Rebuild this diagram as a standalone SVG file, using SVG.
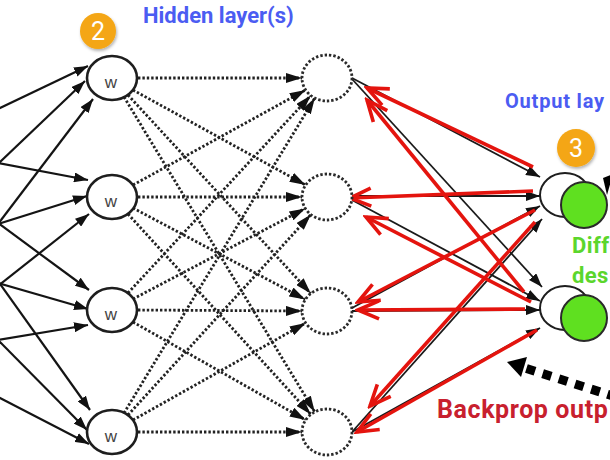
<svg xmlns="http://www.w3.org/2000/svg" width="610" height="460" viewBox="0 0 610 460">
<style>
.in{stroke:#141414;stroke-width:2.2;fill:none;marker-end:url(#ah)}
.dot{stroke:#222;stroke-width:2.8;stroke-dasharray:2.4 2;fill:none;marker-end:url(#ahd)}
.bl{stroke:#1a1a1a;stroke-width:1.8;fill:none;marker-end:url(#ah)}
.rd{stroke:#e4140e;stroke-width:3.6;fill:none;marker-end:url(#ahr)}
.n1{fill:#fff;stroke:#1e1e1e;stroke-width:2.6}
.n2{fill:#fff;stroke:#2a2a2a;stroke-width:2.8;stroke-dasharray:2.4 2}
.out{fill:#fff;stroke:#1e1e1e;stroke-width:2}
.grn{fill:#5fe020;stroke:#2a2a2a;stroke-width:2}
.w{font-family:"Liberation Sans",Arial,sans-serif;font-size:17px;fill:#444;text-anchor:middle}
.lbl{font-family:Roboto,"Liberation Sans",sans-serif;font-weight:bold}
.badge{fill:#f4a614}
.bt{font-family:Roboto,"Liberation Sans",sans-serif;font-size:25px;fill:#fff;text-anchor:middle}
</style>
<defs>
<marker id="ah" viewBox="0 0 14 10" refX="14" refY="5" markerWidth="14" markerHeight="10" markerUnits="userSpaceOnUse" orient="auto"><path d="M0,0 L14,5 L0,10 z" fill="#111"/></marker>
<marker id="ahd" viewBox="0 0 16 10" refX="16" refY="5" markerWidth="16" markerHeight="10" markerUnits="userSpaceOnUse" orient="auto"><path d="M0,0 L16,5 L0,10 z" fill="#111"/></marker>
<marker id="ahr" viewBox="0 0 26 22" refX="23" refY="11" markerWidth="26" markerHeight="22" markerUnits="userSpaceOnUse" orient="auto"><path d="M2,2 L23,11 L2,20" fill="none" stroke="#e4140e" stroke-width="3.6"/></marker>
<filter id="sh" x="-30%" y="-30%" width="160%" height="160%"><feDropShadow dx="1" dy="2" stdDeviation="1.5" flood-color="#000" flood-opacity="0.3"/></filter>
</defs>
<g id="connectors">
<g id="inputs">
<line class="in" x1="-2" y1="109" x2="88" y2="66"/>
<line class="in" x1="-2" y1="164" x2="85" y2="81"/>
<line class="in" x1="-2" y1="224" x2="93" y2="99"/>
<line class="in" x1="-2" y1="163" x2="88" y2="180"/>
<line class="in" x1="-2" y1="224" x2="87" y2="196"/>
<line class="in" x1="-2" y1="286" x2="89" y2="214"/>
<line class="in" x1="-2" y1="223" x2="89" y2="290"/>
<line class="in" x1="-2" y1="283" x2="88" y2="309"/>
<line class="in" x1="-2" y1="340" x2="88" y2="325"/>
<line class="in" x1="-2" y1="281" x2="90" y2="410"/>
<line class="in" x1="-2" y1="340" x2="87" y2="430"/>
<line class="in" x1="-2" y1="397" x2="89" y2="444"/>
</g>
<g id="hidden-links">
<line class="dot" x1="138" y1="78" x2="302" y2="78"/>
<line class="dot" x1="133" y1="90" x2="305.6" y2="185"/>
<line class="dot" x1="128" y1="95" x2="310.8" y2="293.5"/>
<line class="dot" x1="124" y1="97" x2="314.8" y2="412"/>
<line class="dot" x1="133" y1="185" x2="305.6" y2="90"/>
<line class="dot" x1="138" y1="197" x2="302" y2="197"/>
<line class="dot" x1="133" y1="208" x2="305.3" y2="299.5"/>
<line class="dot" x1="128" y1="214" x2="310.9" y2="414.4"/>
<line class="dot" x1="128" y1="293" x2="310.8" y2="95.5"/>
<line class="dot" x1="133" y1="299" x2="305.3" y2="208.4"/>
<line class="dot" x1="138" y1="310" x2="302" y2="311"/>
<line class="dot" x1="133" y1="322" x2="305.7" y2="420"/>
<line class="dot" x1="124" y1="413" x2="314.8" y2="98"/>
<line class="dot" x1="128" y1="415" x2="310.9" y2="214.6"/>
<line class="dot" x1="133" y1="420" x2="305.7" y2="323"/>
<line class="dot" x1="138" y1="432" x2="302" y2="432"/>
</g>
<g id="output-links">
<line class="bl" x1="352" y1="78" x2="540" y2="177"/>
<line class="bl" x1="352" y1="79" x2="542" y2="287"/>
<line class="bl" x1="352" y1="196" x2="540" y2="196"/>
<line class="bl" x1="352" y1="200" x2="540" y2="301"/>
<line class="bl" x1="352" y1="308" x2="540" y2="206"/>
<line class="bl" x1="352" y1="311" x2="540" y2="310"/>
<line class="bl" x1="352" y1="432" x2="542" y2="219"/>
<line class="bl" x1="352" y1="432" x2="540" y2="328"/>
</g>
<g id="backprop">
<line class="rd" x1="533" y1="167" x2="367" y2="88"/>
<line class="rd" x1="524" y1="292" x2="367" y2="100"/>
<line class="rd" x1="533" y1="191" x2="350" y2="198"/>
<line class="rd" x1="531" y1="302" x2="366" y2="217"/>
<line class="rd" x1="535" y1="210" x2="358" y2="302"/>
<line class="rd" x1="525" y1="309" x2="358" y2="310"/>
<line class="rd" x1="535" y1="222" x2="370" y2="406"/>
<line class="rd" x1="537" y1="330" x2="357" y2="432"/>
</g>
<g id="pointer-arrows">
<line x1="616" y1="397" x2="525" y2="368" stroke="#000" stroke-width="9" stroke-dasharray="9 8"/>
<polygon points="507,362 527,357 521,377" fill="#000"/>
<polygon points="603,178 613,174 607,195" fill="#000"/>
</g>
</g>
<g id="h1-1"><ellipse class="n1" cx="112" cy="78" rx="25" ry="22"/><text class="w" x="111" y="88">w</text></g>
<g id="h1-2"><ellipse class="n1" cx="112" cy="197" rx="25" ry="22"/><text class="w" x="111" y="207">w</text></g>
<g id="h1-3"><ellipse class="n1" cx="112" cy="310" rx="25" ry="22"/><text class="w" x="111" y="320">w</text></g>
<g id="h1-4"><ellipse class="n1" cx="112" cy="432" rx="25" ry="22"/><text class="w" x="111" y="442">w</text></g>
<g id="h2-1"><ellipse class="n2" cx="327" cy="78" rx="25" ry="23"/></g>
<g id="h2-2"><ellipse class="n2" cx="327" cy="197" rx="25" ry="23"/></g>
<g id="h2-3"><ellipse class="n2" cx="327" cy="311" rx="25" ry="23"/></g>
<g id="h2-4"><ellipse class="n2" cx="327" cy="432" rx="25" ry="23"/></g>
<g id="out-1"><ellipse class="out" cx="565" cy="195" rx="25" ry="22"/><circle class="grn" cx="584" cy="205" r="23"/></g>
<g id="out-2"><ellipse class="out" cx="565" cy="308" rx="25" ry="22"/><circle class="grn" cx="584" cy="318" r="23"/></g>
<g id="badge-2"><circle class="badge" cx="98" cy="31" r="18" filter="url(#sh)"/><text class="bt" x="98" y="40">2</text></g>
<g id="badge-3"><circle class="badge" cx="576" cy="148" r="19" filter="url(#sh)"/><text class="bt" x="576" y="157">3</text></g>
<g id="labels">
<text class="lbl" x="143" y="23" font-size="22" fill="#4b5cf2">Hidden layer(s)</text>
<text class="lbl" x="505" y="108" font-size="20" fill="#4b5cf2" letter-spacing="0.8">Output lay</text>
<text class="lbl" x="572" y="253" font-size="22" fill="#5bd62c" letter-spacing="0.4">Diff</text>
<text class="lbl" x="572" y="283" font-size="22" fill="#5bd62c" letter-spacing="0.4">des</text>
<text class="lbl" x="437" y="418" font-size="25" fill="#c8202e" letter-spacing="0.6">Backprop outp</text>
</g>
</svg>
